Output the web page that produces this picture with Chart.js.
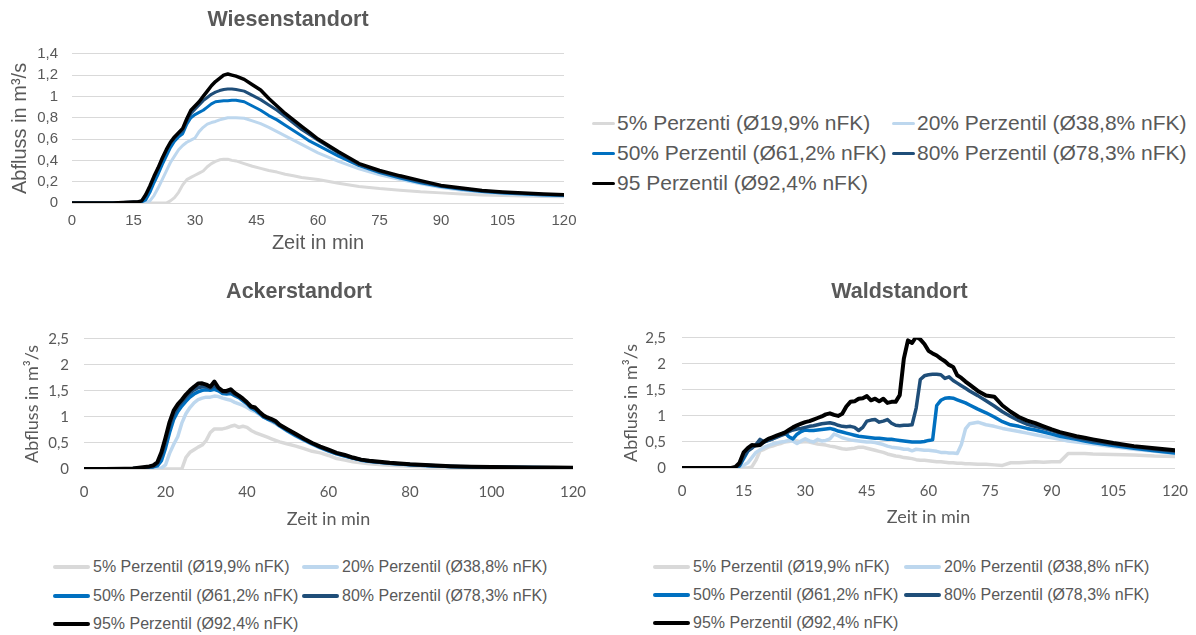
<!DOCTYPE html>
<html lang="de">
<head>
<meta charset="utf-8">
<title>Abfluss nach Standort</title>
<script src="https://cdn.jsdelivr.net/npm/chart.js@4.4.1/dist/chart.umd.min.js"></script>
<style>
  html, body { margin: 0; padding: 0; background: #ffffff; }
  body { width: 1196px; height: 635px; position: relative; overflow: hidden; }
  canvas { position: absolute; }
  .item { position: absolute; display: flex; align-items: center; white-space: nowrap;
          font-family: "Liberation Sans", Arial, sans-serif; color: #595959; }
  .swatch { display: inline-block; flex: none; }
</style>
</head>
<body>
<canvas id="wiese" width="586" height="255" style="left:0px;top:0px"></canvas>
<canvas id="acker" width="593" height="265" style="left:0px;top:270px"></canvas>
<canvas id="wald" width="595" height="265" style="left:600px;top:270px"></canvas>
<div id="legends"></div>
<script>
// ---- series labels ----
const labelsTop = [
  '5% Perzenti (Ø19,9% nFK)', '20% Perzentil (Ø38,8% nFK)', '50% Perzentil (Ø61,2% nFK)',
  '80% Perzentil (Ø78,3% nFK)', '95 Perzentil (Ø92,4% nFK)'
];
const labelsBottom = [
  '5% Perzentil (Ø19,9% nFK)', '20% Perzentil (Ø38,8% nFK)', '50% Perzentil (Ø61,2% nFK)',
  '80% Perzentil (Ø78,3% nFK)', '95% Perzentil (Ø92,4% nFK)'
];

// ---- Wiesenstandort: time in min, discharge in m³/s ----
const tWiese = [0,5,10,15,16,17,18,19,20,21,22,23,24,25,26,27,28,29,30,31,32,33,34,35,36,37,38,39,40,
  42,44,46,48,50,52,54,56,58,60,65,70,75,80,85,90,95,100,105,110,115,120];
const wiese5 = [0,0,0, 0,0,0,0,0,0,0,0,0,0.02,0.05,0.1,0.17,0.22,0.24,0.26,0.28,0.3,0.34,0.37,0.39,0.405,0.41,0.41,0.4,0.395,
  0.37,0.345,0.325,0.305,0.29,0.27,0.255,0.24,0.23,0.22, 0.185,0.155,0.135,0.12,0.105,0.095,0.085,0.075,0.07,0.065,0.06,0.058];
const wiese20 = [0,0,0, 0,0,0,0,0.02,0.07,0.14,0.22,0.3,0.38,0.44,0.5,0.54,0.57,0.59,0.61,0.67,0.71,0.74,0.755,0.765,0.78,0.79,0.8,0.8,0.8,
  0.795,0.77,0.745,0.71,0.67,0.63,0.59,0.55,0.51,0.47, 0.39,0.32,0.265,0.22,0.18,0.145,0.12,0.1,0.086,0.076,0.068,0.062];
const wiese50 = [0,0,0, 0.005,0.005,0.01,0.03,0.1,0.19,0.27,0.36,0.44,0.52,0.58,0.62,0.65,0.74,0.8,0.83,0.85,0.87,0.9,0.93,0.95,0.955,0.96,0.96,0.965,0.965,
  0.95,0.91,0.87,0.82,0.78,0.73,0.68,0.63,0.58,0.54, 0.44,0.35,0.285,0.235,0.19,0.155,0.128,0.108,0.094,0.084,0.075,0.07];
const wiese80 = [0,0,0, 0.01,0.01,0.02,0.07,0.15,0.24,0.32,0.41,0.49,0.56,0.61,0.65,0.68,0.77,0.84,0.88,0.92,0.96,0.99,1.02,1.04,1.055,1.065,1.07,1.07,1.065,
  1.05,1.01,0.97,0.92,0.87,0.81,0.75,0.69,0.64,0.59, 0.47,0.36,0.295,0.245,0.2,0.16,0.133,0.113,0.098,0.088,0.08,0.074];
const wiese95 = [0,0,0, 0.01,0.01,0.02,0.08,0.16,0.25,0.33,0.42,0.5,0.57,0.62,0.66,0.7,0.79,0.87,0.91,0.95,1.0,1.05,1.1,1.14,1.17,1.2,1.21,1.2,1.19,
  1.16,1.11,1.06,0.98,0.91,0.84,0.78,0.72,0.66,0.6, 0.48,0.37,0.305,0.255,0.21,0.165,0.14,0.117,0.103,0.093,0.085,0.078];

// ---- Ackerstandort ----
const tAcker = [0,5,10,12,14,16,
  17,18,19,20,21,22,23,24,25,26,27,28,29,30,31,32,33,34,35,36,37,38,39,40,41,42,43,44,45,46,47,48,
  50,52,54,56,58,60,62,64,66,68,70, 75,80,85,90,95,100,105,110,115,120];
const acker5 = [0,0,0,0,0,0,
  0,0,0,0,0,0,0,0,0.22,0.32,0.37,0.42,0.46,0.55,0.7,0.77,0.77,0.77,0.79,0.82,0.84,0.8,0.82,0.8,0.74,0.7,0.67,0.64,0.61,0.58,0.55,0.52,
  0.48,0.44,0.39,0.34,0.31,0.26,0.2,0.17,0.14,0.12,0.1, 0.07,0.055,0.04,0.032,0.028,0.025,0.022,0.02,0.018,0.015];
const acker20 = [0,0,0,0,0,0.005,
  0.01,0.01,0.02,0.08,0.3,0.47,0.62,0.88,1.06,1.18,1.27,1.33,1.36,1.38,1.38,1.4,1.39,1.36,1.34,1.32,1.28,1.25,1.22,1.18,1.13,1.1,1.05,1.0,0.96,0.91,0.87,0.82,
  0.72,0.63,0.55,0.47,0.4,0.34,0.29,0.25,0.2,0.17,0.14, 0.1,0.075,0.058,0.045,0.038,0.033,0.028,0.025,0.022,0.02];
const acker50 = [0,0,0,0.005,0.015,0.03,
  0.04,0.06,0.16,0.4,0.7,0.95,1.1,1.21,1.3,1.38,1.44,1.48,1.51,1.52,1.51,1.53,1.5,1.45,1.44,1.45,1.41,1.37,1.31,1.25,1.17,1.13,1.07,1.0,0.96,0.93,0.89,0.83,
  0.73,0.64,0.56,0.48,0.41,0.35,0.29,0.25,0.21,0.17,0.15, 0.11,0.08,0.062,0.048,0.04,0.035,0.03,0.027,0.024,0.02];
const acker80 = [0,0,0.005,0.01,0.02,0.04,
  0.05,0.1,0.26,0.52,0.82,1.05,1.19,1.29,1.38,1.46,1.52,1.56,1.58,1.58,1.55,1.6,1.54,1.48,1.47,1.49,1.43,1.39,1.33,1.27,1.19,1.16,1.09,1.01,0.98,0.94,0.9,0.84,
  0.75,0.66,0.57,0.49,0.42,0.36,0.3,0.26,0.21,0.18,0.15, 0.11,0.085,0.065,0.05,0.042,0.037,0.032,0.028,0.026,0.022];
const acker95 = [0,0,0.005,0.01,0.03,0.05,
  0.07,0.13,0.32,0.6,0.9,1.12,1.24,1.33,1.43,1.51,1.58,1.64,1.645,1.62,1.58,1.68,1.56,1.5,1.5,1.53,1.46,1.41,1.35,1.28,1.2,1.18,1.1,1.03,0.99,0.96,0.92,0.85,
  0.76,0.67,0.58,0.5,0.43,0.37,0.31,0.27,0.22,0.18,0.16, 0.12,0.09,0.07,0.055,0.045,0.04,0.035,0.03,0.03,0.025];

// ---- Waldstandort ----
const tWald = [0,5,10,
  12,13,14,15,16,17,18,19,20,
  21,22,23,24,25,26,27,28,29,30,
  31,32,33,34,35,36,37,38,39,40,
  41,42,43,44,45,46,47,48,49,50,
  51,52,53,54,55,56,57,58,59,60,
  61,62,63,64,65,66,67,68,69,70,
  72,74,76,78,80,82,84,86,88,90,92,94,96,98,100,
  105,110,115,120];
const wald5 = [0,0,0,
  0,0,0,0,0,0.02,0.15,0.33,0.36,
  0.4,0.42,0.45,0.47,0.5,0.51,0.53,0.52,0.5,0.51,
  0.5,0.48,0.46,0.45,0.44,0.42,0.41,0.39,0.37,0.36,
  0.37,0.38,0.4,0.4,0.38,0.36,0.34,0.32,0.3,0.27,
  0.25,0.23,0.22,0.2,0.19,0.18,0.16,0.15,0.15,0.14,
  0.13,0.12,0.12,0.11,0.1,0.1,0.09,0.09,0.08,0.08,
  0.07,0.07,0.06,0.05,0.1,0.1,0.11,0.12,0.11,0.12,0.12,0.28,0.28,0.28,0.27,
  0.26,0.25,0.23,0.22];
const wald20 = [0,0,0,
  0,0,0.01,0.05,0.1,0.2,0.3,0.35,0.4,
  0.43,0.46,0.48,0.5,0.51,0.53,0.52,0.47,0.52,0.56,
  0.52,0.5,0.55,0.52,0.53,0.56,0.65,0.62,0.58,0.56,
  0.54,0.53,0.52,0.51,0.5,0.5,0.49,0.47,0.45,0.42,
  0.4,0.39,0.38,0.36,0.36,0.33,0.36,0.35,0.34,0.34,
  0.33,0.32,0.3,0.3,0.29,0.29,0.28,0.45,0.75,0.85,
  0.88,0.83,0.8,0.76,0.73,0.7,0.67,0.64,0.61,0.58,0.55,0.52,0.5,0.48,0.46,
  0.41,0.36,0.32,0.28];
const wald50 = [0,0,0,
  0,0,0.04,0.18,0.32,0.4,0.44,0.47,0.5,
  0.53,0.56,0.6,0.64,0.68,0.6,0.56,0.65,0.7,0.73,
  0.72,0.72,0.73,0.74,0.75,0.76,0.74,0.71,0.69,0.67,
  0.65,0.63,0.61,0.6,0.59,0.58,0.57,0.57,0.56,0.55,
  0.55,0.54,0.53,0.52,0.51,0.5,0.5,0.5,0.51,0.53,
  0.54,1.2,1.3,1.34,1.35,1.34,1.31,1.28,1.25,1.21,
  1.13,1.06,0.98,0.89,0.83,0.8,0.76,0.73,0.69,0.65,0.61,0.58,0.55,0.52,0.49,
  0.43,0.38,0.33,0.29];
const wald80 = [0,0,0,
  0,0.01,0.06,0.22,0.33,0.38,0.45,0.55,0.5,
  0.53,0.56,0.59,0.62,0.65,0.7,0.73,0.75,0.76,0.78,
  0.8,0.81,0.83,0.85,0.86,0.87,0.85,0.82,0.8,0.79,
  0.8,0.78,0.72,0.78,0.9,0.92,0.93,0.88,0.9,0.93,
  0.86,0.82,0.81,0.82,0.82,0.83,1.15,1.7,1.77,1.79,
  1.8,1.8,1.79,1.72,1.75,1.68,1.63,1.58,1.53,1.48,
  1.39,1.29,1.19,1.08,0.99,0.91,0.84,0.8,0.76,0.72,0.67,0.62,0.58,0.55,0.52,
  0.46,0.41,0.36,0.32];
const wald95 = [0,0,0,
  0,0.02,0.1,0.3,0.38,0.44,0.43,0.44,0.51,
  0.56,0.59,0.62,0.65,0.68,0.73,0.78,0.82,0.85,0.88,
  0.9,0.93,0.96,0.99,1.03,1.05,1.02,1.0,1.04,1.18,
  1.27,1.28,1.33,1.34,1.38,1.3,1.33,1.28,1.33,1.25,
  1.27,1.27,1.4,2.1,2.45,2.4,2.52,2.47,2.38,2.25,
  2.2,2.16,2.1,2.05,1.98,1.94,1.78,1.73,1.66,1.6,
  1.48,1.39,1.37,1.2,1.08,0.98,0.91,0.86,0.8,0.74,0.69,0.65,0.61,0.58,0.55,
  0.48,0.42,0.38,0.34];

// ---- styling ----
const COLORS = ['#d9d9d9', '#bdd7ee', '#0070c0', '#1f4e79', '#000000'];
const ARIAL = '"Liberation Sans", Arial, sans-serif';
const HUMAN = 'Lato, "Open Sans", sans-serif';
const GREY = '#595959';

const fmtDe = v => String(Math.round(v * 10) / 10).replace('.', ',');

function makeChart(id, o) {
  const datasets = o.series.map((vals, i) => ({
    label: o.labels[i],
    data: o.times.map((t, j) => ({ x: t, y: vals[j] })),
    borderColor: COLORS[i],
    backgroundColor: COLORS[i],
    borderWidth: o.widths[i],
    pointRadius: 0,
    tension: 0,
    fill: false,
    borderJoinStyle: 'round',
    borderCapStyle: 'round',
    order: 5 - i
  }));
  return new Chart(document.getElementById(id), {
    type: 'line',
    data: { datasets },
    options: {
      responsive: false,
      animation: false,
      devicePixelRatio: 1,
      layout: { padding: { left: o.padL, right: o.padR, top: 0, bottom: 0 } },
      plugins: {
        legend: { display: false },
        tooltip: { enabled: false },
        title: {
          display: true, text: o.title, color: GREY,
          font: { family: ARIAL, size: 21.5, weight: 'bold', lineHeight: 1.2 },
          padding: { top: o.titleTop, bottom: o.titleBottom }
        }
      },
      scales: {
        x: {
          type: 'linear', min: 0, max: 120,
          ticks: { stepSize: o.xStep, color: GREY, font: { family: o.tickFont, size: o.tickSize },
                   padding: o.xTickPad, maxRotation: 0, autoSkip: false },
          grid: { display: false, drawTicks: false },
          border: { display: false },
          title: { display: true, text: 'Zeit in min', color: GREY,
                   font: { family: o.titleFont, size: o.axisTitleSize, lineHeight: 1.2 },
                   padding: { top: 0, bottom: o.xTitlePad } },
          afterFit(s) { s.height = o.xH; s.paddingLeft = 0; s.paddingRight = 0; }
        },
        y: {
          type: 'linear', min: 0, max: o.yMax,
          ticks: { stepSize: o.yStep, color: GREY, font: { family: o.tickFont, size: o.tickSize },
                   padding: o.yTickPad, callback: v => fmtDe(v) },
          grid: { color: '#d9d9d9', lineWidth: 1, drawTicks: false },
          border: { display: false },
          title: { display: true, text: 'Abfluss in m³/s', color: GREY,
                   font: { family: o.titleFont, size: o.axisTitleSize, lineHeight: 0.8 },
                   padding: 0 },
          afterFit(s) { s.width = o.yW; s.paddingTop = 0; s.paddingBottom = 0; }
        }
      }
    }
  });
}

makeChart('wiese', {
  title: 'Wiesenstandort', labels: labelsTop, times: tWiese,
  series: [wiese5, wiese20, wiese50, wiese80, wiese95],
  widths: [3, 3, 3, 3, 3.5],
  padL: 12, padR: 22, yW: 60, xH: 52, titleTop: 7, titleBottom: 21,
  yMax: 1.4, yStep: 0.2, xStep: 15,
  tickFont: ARIAL, tickSize: 15, titleFont: ARIAL, axisTitleSize: 20,
  xTickPad: 9, yTickPad: 14, xTitlePad: 0
});

makeChart('acker', {
  title: 'Ackerstandort', labels: labelsBottom, times: tAcker,
  series: [acker5, acker20, acker50, acker80, acker95],
  widths: [3.5, 3.5, 3.5, 3.5, 4],
  padL: 25, padR: 20, yW: 59, xH: 66, titleTop: 9, titleBottom: 34,
  yMax: 2.5, yStep: 0.5, xStep: 20,
  tickFont: HUMAN, tickSize: 15, titleFont: HUMAN, axisTitleSize: 18,
  xTickPad: 14, yTickPad: 15, xTitlePad: 5
});

makeChart('wald', {
  title: 'Waldstandort', labels: labelsBottom, times: tWald,
  series: [wald5, wald20, wald50, wald80, wald95],
  widths: [3.5, 3.5, 3.5, 3.5, 4],
  padL: 24, padR: 20, yW: 58, xH: 67, titleTop: 9, titleBottom: 33,
  yMax: 2.5, yStep: 0.5, xStep: 15,
  tickFont: HUMAN, tickSize: 15, titleFont: HUMAN, axisTitleSize: 18,
  xTickPad: 14, yTickPad: 16, xTitlePad: 7
});

// ---- legends (two columns, three rows) ----
function buildLegend(labels, cfg) {
  const host = document.getElementById('legends');
  labels.forEach((text, i) => {
    const item = document.createElement('div');
    item.className = 'item';
    const h = Math.round(cfg.font * 1.3);
    item.style.left = cfg.cols[i % 2] + 'px';
    item.style.top = (cfg.rows[Math.floor(i / 2)] - h / 2) + 'px';
    item.style.height = h + 'px';
    item.style.fontSize = cfg.font + 'px';
    const sw = document.createElement('span');
    sw.className = 'swatch';
    sw.style.width = cfg.swatch + 'px';
    sw.style.height = cfg.thick + 'px';
    sw.style.background = COLORS[i];
    sw.style.borderRadius = (cfg.thick / 2) + 'px';
    sw.style.marginRight = cfg.gap + 'px';
    const lab = document.createElement('span');
    lab.textContent = text;
    item.appendChild(sw);
    item.appendChild(lab);
    host.appendChild(item);
  });
}
buildLegend(labelsTop,    { cols: [592, 892], rows: [123, 153, 183], swatch: 23, thick: 3, gap: 2, font: 21 });
buildLegend(labelsBottom, { cols: [53, 302],  rows: [567, 596, 624], swatch: 37, thick: 4, gap: 3, font: 16 });
buildLegend(labelsBottom, { cols: [653, 904], rows: [567, 595, 623], swatch: 37, thick: 4, gap: 3, font: 16 });
</script>
</body>
</html>
